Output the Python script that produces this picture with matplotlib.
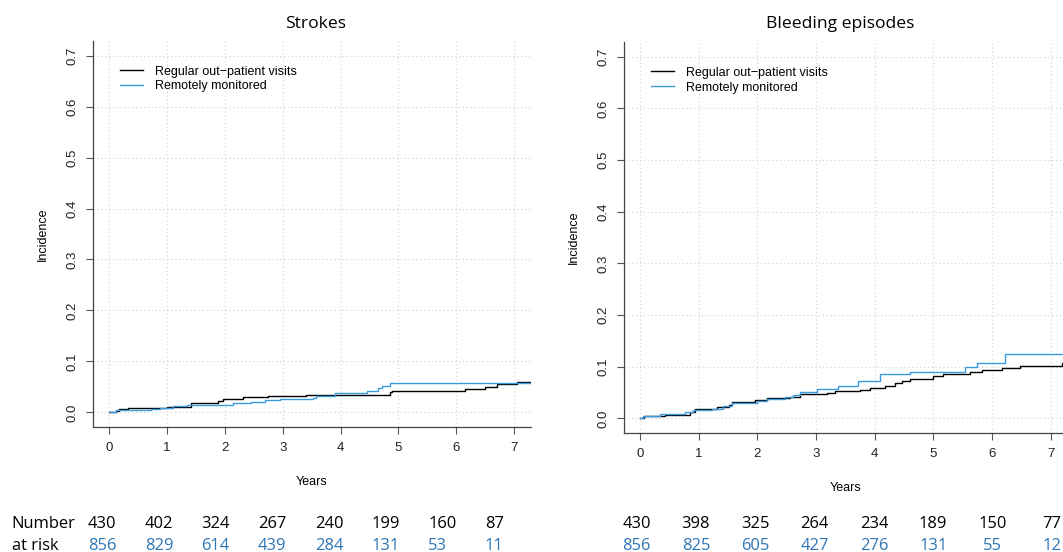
import matplotlib
matplotlib.use("Agg")
import matplotlib.pyplot as plt

# valores
anios_ticks = [0, 1, 2, 3, 4, 5, 6, 7]
incid_ticks = [0.0, 0.1, 0.2, 0.3, 0.4, 0.5, 0.6, 0.7]

etiqueta_reg = "Regular out\u2212patient visits"
etiqueta_rem = "Remotely monitored"

# Strokes
t_ictus_reg = [0, 0.13, 0.18, 0.33, 1.0, 1.42, 1.89, 1.97, 2.32, 2.75, 3.41, 4.86, 4.88, 6.15, 6.50, 6.70, 7.04, 7.35]
y_ictus_reg = [0, 0.003, 0.006, 0.009, 0.011, 0.019, 0.022, 0.027, 0.030, 0.033, 0.035, 0.039, 0.042, 0.046, 0.050, 0.055, 0.060, 0.060]
t_ictus_rem = [0, 0.12, 0.73, 0.88, 1.11, 1.34, 2.14, 2.46, 2.69, 2.95, 3.53, 3.58, 3.64, 3.90, 4.45, 4.65, 4.71, 4.85, 7.35]
y_ictus_rem = [0, 0.004, 0.0065, 0.009, 0.0125, 0.015, 0.0177, 0.020, 0.024, 0.027, 0.029, 0.032, 0.033, 0.037, 0.042, 0.047, 0.052, 0.0576, 0.0576]

# Bleeding episodes
t_sang_reg = [0, 0.06, 0.43, 0.85, 0.94, 1.31, 1.51, 1.56, 1.96, 2.16, 2.56, 2.73, 3.18, 3.32, 3.75, 3.92, 4.18, 4.35, 4.46, 4.60, 5.0, 5.17, 5.63, 5.82, 6.16, 6.48, 7.19, 7.35]
y_sang_reg = [0, 0.0045, 0.007, 0.0116, 0.019, 0.0226, 0.026, 0.031, 0.035, 0.039, 0.042, 0.047, 0.050, 0.052, 0.055, 0.058, 0.0626, 0.068, 0.073, 0.076, 0.0826, 0.085, 0.089, 0.093, 0.097, 0.1006, 0.108, 0.108]
t_sang_rem = [0, 0.05, 0.34, 0.77, 0.91, 1.22, 1.42, 1.56, 1.99, 2.16, 2.47, 2.61, 2.73, 3.01, 3.38, 3.72, 4.09, 4.60, 5.54, 5.74, 6.22, 7.35]
y_sang_rem = [0, 0.005, 0.0077, 0.0116, 0.017, 0.019, 0.024, 0.029, 0.034, 0.038, 0.042, 0.046, 0.051, 0.057, 0.0626, 0.073, 0.086, 0.090, 0.099, 0.108, 0.1245, 0.1245]

# number at risk
riesgo_ictus_reg = [430, 402, 324, 267, 240, 199, 160, 87]
riesgo_ictus_rem = [856, 829, 614, 439, 284, 131, 53, 11]
riesgo_sang_reg = [430, 398, 325, 264, 234, 189, 150, 77]
riesgo_sang_rem = [856, 825, 605, 427, 276, 131, 55, 12]

AZUL = "#3b9be0"
AZUL_TXT = "#2e75b6"
W, H = 1063, 552


def rect_px(x0, y0, x1, y1):
    return [x0 / W, 1 - y1 / H, (x1 - x0) / W, (y1 - y0) / H]


def dibujar_panel(ax, t_reg, y_reg, t_rem, y_rem):
    ax.step(t_reg, y_reg, where="post", color="black", lw=1.0, label=etiqueta_reg)
    ax.step(t_rem, y_rem, where="post", color=AZUL, lw=1.0, label=etiqueta_rem)
    ax.set_xlim(-0.28, 7.28)
    ax.set_ylim(-0.028, 0.728)
    ax.set_xticks(anios_ticks)
    ax.set_yticks(incid_ticks, [f"{v:.1f}" for v in incid_ticks])
    ax.grid(True, color="#d0d0d0", linestyle=(0, (1, 2.5)), linewidth=0.8)
    ax.set_axisbelow(True)
    for s in ["top", "right"]:
        ax.spines[s].set_visible(False)
    for s in ["left", "bottom"]:
        ax.spines[s].set_color("#444444")
        ax.spines[s].set_linewidth(0.9)
    ax.tick_params(axis="both", length=5, width=0.8, color="#555555",
                   labelsize=9.5, labelcolor="#222222")
    ax.tick_params(axis="x", pad=6)
    ax.tick_params(axis="y", labelrotation=90, pad=5)
    for lab in ax.get_yticklabels():
        lab.set_va("center")
    ax.set_xlabel("Years", fontsize=9, labelpad=16)
    ax.set_ylabel("Incidence", fontsize=9, labelpad=13)
    ax.legend(loc="upper left", bbox_to_anchor=(0.062, 0.937), frameon=False,
              borderpad=0, borderaxespad=0, handlelength=1.85,
              handletextpad=0.95, labelspacing=0.22, fontsize=9)


plt.rcParams["font.family"] = ["Liberation Sans", "DejaVu Sans"]

fig = plt.figure(figsize=(W / 100, H / 100), dpi=100)
ax1 = fig.add_axes(rect_px(92.7, 41.4, 530.5, 426.6))
ax2 = fig.add_axes(rect_px(623.6, 42.2, 1067.3, 432.8))

dibujar_panel(ax1, t_ictus_reg, y_ictus_reg, t_ictus_rem, y_ictus_rem)
dibujar_panel(ax2, t_sang_reg, y_sang_reg, t_sang_rem, y_sang_rem)

fuente_calibri = dict(family="Open Sans")
fig.text(315.8 / W, 1 - 28.3 / H, "Strokes", ha="center", va="baseline",
         fontsize=12.6, **fuente_calibri)
fig.text(840 / W, 1 - 28.3 / H, "Bleeding episodes", ha="center", va="baseline",
         fontsize=12.6, **fuente_calibri)

# tabla de numero en riesgo
fig.text(11.7 / W, 1 - 528.3 / H, "Number", ha="left", va="baseline",
         fontsize=11.9, color="black", **fuente_calibri)
fig.text(11.7 / W, 1 - 550 / H, "at risk", ha="left", va="baseline",
         fontsize=11.9, color="black", **fuente_calibri)
for i in range(len(riesgo_ictus_reg)):
    x = (88 + 56.7 * i) / W
    fig.text(x, 1 - 528.3 / H, str(riesgo_ictus_reg[i]), ha="left", va="baseline",
             fontsize=11.9, color="black", **fuente_calibri)
    fig.text(x, 1 - 550 / H, str(riesgo_ictus_rem[i]), ha="left", va="baseline",
             fontsize=11.9, color=AZUL_TXT, **fuente_calibri)
for i in range(len(riesgo_sang_reg)):
    x = (636.7 + 59.3 * i) / W
    fig.text(x, 1 - 528.3 / H, str(riesgo_sang_reg[i]), ha="center", va="baseline",
             fontsize=11.9, color="black", **fuente_calibri)
    fig.text(x, 1 - 550 / H, str(riesgo_sang_rem[i]), ha="center", va="baseline",
             fontsize=11.9, color=AZUL_TXT, **fuente_calibri)

fig.savefig("out.png", dpi=100)
